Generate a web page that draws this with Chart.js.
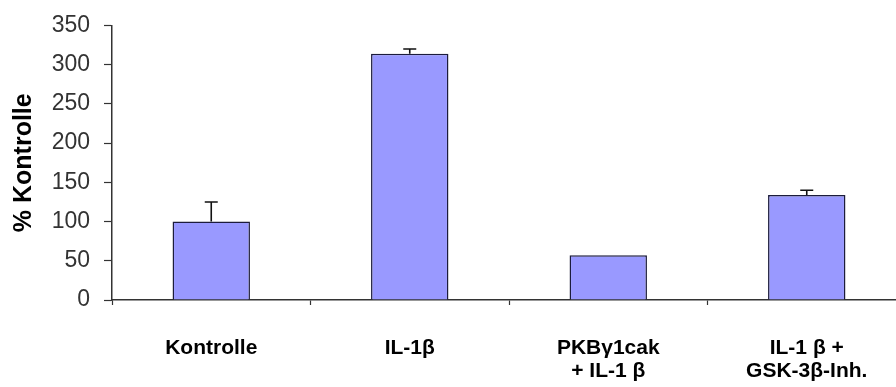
<!DOCTYPE html>
<html>
<head>
<meta charset="utf-8">
<script src="https://cdn.jsdelivr.net/npm/chart.js@4"></script>
<style>
  html, body { margin: 0; padding: 0; background: #fff; overflow: hidden; }
  #wrap { width: 906px; height: 387px; }
</style>
</head>
<body>
<div id="wrap"><canvas id="chart"></canvas></div>
<script>
// data
const categories = ['Kontrolle', 'IL-1β', ['PKBγ1cak', '+ IL-1 β'], ['IL-1 β +', 'GSK-3β-Inh.']];
const values = [100, 314, 57, 134];
const errors = [25, 6, 0, 6];
const yTicks = [0, 50, 100, 150, 200, 250, 300, 350];

// --- error bars (upper only, like Excel) ---
const errorBars = {
  id: 'errorBars',
  afterDatasetsDraw(chart) {
    const { ctx, scales: { x, y } } = chart;
    ctx.save();
    ctx.strokeStyle = '#111';
    ctx.lineWidth = 1.6;
    values.forEach((v, i) => {
      if (!errors[i]) return;
      const px = x.getPixelForValue(i);
      const top = y.getPixelForValue(v + errors[i]);
      const base = y.getPixelForValue(v);
      ctx.beginPath();
      ctx.moveTo(px, base);
      ctx.lineTo(px, top);
      ctx.moveTo(px - 6.5, top);
      ctx.lineTo(px + 6.5, top);
      ctx.stroke();
    });
    ctx.restore();
  }
};

new Chart(document.getElementById('chart'), {
  type: 'bar',
  data: {
    labels: categories,
    datasets: [{
      data: values,
      backgroundColor: '#9999ff',
      borderColor: '#1c1c3c',
      borderWidth: 1.5,
      borderSkipped: 'bottom',
      barPercentage: 0.39,
      categoryPercentage: 1
    }]
  },
  options: {
    responsive: true,
    maintainAspectRatio: false,
    animation: false,
    events: [],
    layout: { padding: { top: 10, left: 0, right: 0, bottom: 0 } },
    plugins: { legend: { display: false }, tooltip: { enabled: false } },
    scales: {
      x: {
        afterFit: (scale) => { scale.height = 87; },
        grid: { drawOnChartArea: false, offset: true, tickLength: 5, tickColor: '#333', tickWidth: 1.2 },
        border: { color: '#333', width: 1.5 },
        ticks: {
          color: '#000',
          padding: 31,
          maxRotation: 0,
          font: { family: 'Liberation Sans, Arial, sans-serif', size: 21, weight: 'bold', lineHeight: 1.12 }
        }
      },
      y: {
        min: 0,
        max: 350,
        afterBuildTicks: (axis) => { axis.ticks = yTicks.map(v => ({ value: v })); },
        afterFit: (scale) => { scale.width = 112; },
        grid: { drawOnChartArea: false, tickLength: 8, tickColor: '#333', tickWidth: 1.2 },
        border: { color: '#333', width: 1.5 },
        ticks: {
          color: '#333',
          padding: 14,
          font: { family: 'Liberation Sans, Arial, sans-serif', size: 23, lineHeight: 1 }
        },
        title: {
          display: true,
          text: '% Kontrolle',
          color: '#000',
          padding: { top: 9, bottom: 0 },
          font: { family: 'Liberation Sans, Arial, sans-serif', size: 25, weight: 'bold', lineHeight: 1.2 }
        }
      }
    }
  },
  plugins: [errorBars]
});
</script>
</body>
</html>
